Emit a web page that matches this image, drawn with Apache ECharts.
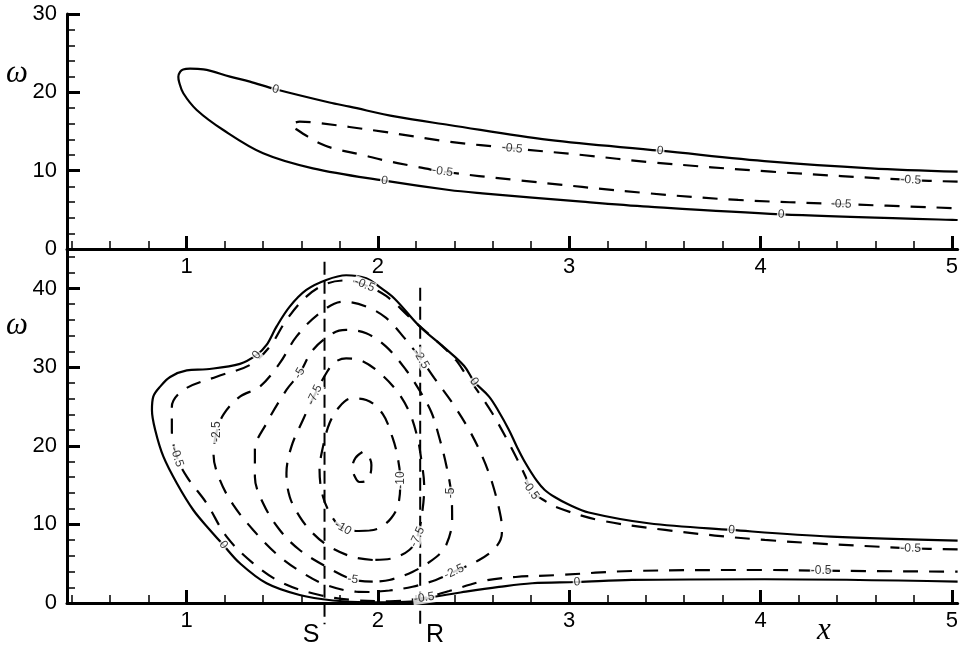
<!DOCTYPE html>
<html>
<head>
<meta charset="utf-8">
<script src="https://cdn.jsdelivr.net/npm/echarts@6/dist/echarts.min.js"></script>
<style>
  html, body { margin: 0; padding: 0; background: #fff; }
  #chart { width: 961px; height: 650px; }
</style>
</head>
<body>
<div id="chart"></div>
<script>
// ---------- axis ranges and tick values ----------
const X_MIN = 0.375, X_MAX = 5.03;
const xMajor = [1, 2, 3, 4, 5];
const xMinor = [0.4, 0.6, 0.8, 1.2, 1.4, 1.6, 1.8, 2.2, 2.4, 2.6, 2.8, 3.2, 3.4, 3.6, 3.8, 4.2, 4.4, 4.6, 4.8];
const topYMax = 30;
const topYMajor = [0, 10, 20, 30];
const topYMinor = [2, 4, 6, 8, 12, 14, 16, 18, 22, 24, 26, 28];
const botYMax = 44.9;
const botYMajor = [0, 10, 20, 30, 40];
const botYMinor = [2, 4, 6, 8, 12, 14, 16, 18, 22, 24, 26, 28, 32, 34, 36, 38, 42, 44];

// ---------- upper panel contours (x, omega) ----------
const topZero = [[5.03,9.87],[4.575,10.30],[4.054,11.15],[3.475,12.55],[2.893,13.92],[2.372,15.83],[2.095,16.89],[1.852,18.17],[1.747,18.70],[1.465,20.39],[1.331,21.36],[1.227,22.00],[1.088,22.94],[1.018,23.02],[0.982,22.92],[0.966,22.60],[0.957,22.00],[0.961,21.32],[0.983,19.88],[1.053,17.75],[1.192,15.19],[1.400,12.22],[1.660,10.30],[2.034,8.72],[2.372,7.53],[2.546,7.11],[3.067,6.04],[3.414,5.40],[4.108,4.43],[5.03,3.70]];
const topNegHalf = [[5.03,8.59],[4.785,8.81],[4.056,9.87],[3.431,11.07],[3.067,12.00],[2.702,12.86],[2.372,13.70],[2.025,14.98],[1.678,16.12],[1.591,16.25],[1.547,15.77],[1.576,15.26],[1.634,14.34],[1.695,13.49],[1.765,12.86],[1.921,12.00],[2.025,11.36],[2.181,10.60],[2.338,9.89],[2.720,8.81],[3.414,7.11],[3.883,6.26],[4.421,5.74],[5.03,5.20]];
const topLabelPos = [[1.465,20.39,'0'],[3.475,12.55,'0'],[2.034,8.72,'0'],[4.108,4.43,'0'],[2.702,12.86,'-0.5'],[4.785,8.81,'-0.5'],[2.338,9.89,'-0.5'],[4.421,5.74,'-0.5']];

// ---------- lower panel contours (x, omega) ----------
const botZero = [[5.03,7.93],[4.369,8.44],[3.848,9.29],[3.414,10.14],[3.102,11.51],[2.997,12.53],[2.924,13.49],[2.872,14.38],[2.831,15.52],[2.772,17.77],[2.727,19.85],[2.685,22.01],[2.633,24.30],[2.581,26.25],[2.503,28.16],[2.451,30.15],[2.346,32.51],[2.216,35.24],[2.086,38.74],[2.008,40.20],[1.939,41.31],[1.834,41.69],[1.730,41.09],[1.626,39.82],[1.539,37.70],[1.470,35.15],[1.418,32.82],[1.366,31.55],[1.279,30.41],[1.105,29.73],[1.001,29.58],[0.914,28.75],[0.862,27.52],[0.826,26.25],[0.819,24.55],[0.836,22.01],[0.879,18.61],[0.949,15.23],[1.035,11.83],[1.122,9.29],[1.192,7.38],[1.279,5.05],[1.418,2.51],[1.591,1.02],[1.765,0.32],[1.939,0.09],[2.112,0.13],[2.216,0.32],[2.303,0.83],[2.459,1.44],[2.633,2.04],[2.806,2.51],[3.041,2.67],[3.327,2.93],[4.022,3.02],[5.03,2.71]];
const botNegHalf = [[5.03,6.83],[4.785,6.96],[4.022,8.02],[3.501,9.29],[3.154,10.56],[2.945,12.09],[2.857,13.23],[2.798,14.38],[2.772,16.07],[2.685,20.32],[2.598,24.13],[2.529,26.68],[2.461,29.01],[2.407,30.92],[2.320,33.04],[2.181,36.01],[2.043,39.06],[1.930,40.46],[1.834,41.03],[1.730,40.59],[1.626,38.97],[1.522,36.01],[1.435,32.61],[1.331,30.28],[1.157,28.79],[0.983,27.10],[0.923,24.97],[0.923,22.01],[0.949,18.61],[1.001,16.07],[1.105,12.68],[1.209,8.44],[1.348,5.05],[1.504,2.51],[1.695,1.02],[1.869,0.38],[2.060,0.22],[2.242,0.67],[2.372,1.53],[2.564,2.86],[2.720,3.31],[2.945,3.56],[3.327,4.07],[4.022,4.20],[4.317,4.11],[5.03,3.98]];
const botNeg2p5 = [[1.956,1.40],[1.886,1.44],[1.730,2.29],[1.591,4.07],[1.466,6.32],[1.348,9.29],[1.244,12.47],[1.174,15.65],[1.141,18.83],[1.157,21.79],[1.195,24.05],[1.279,26.25],[1.383,27.52],[1.487,30.50],[1.574,33.88],[1.695,36.86],[1.817,38.33],[1.939,37.70],[2.043,36.26],[2.138,33.72],[2.225,31.04],[2.294,28.63],[2.390,25.41],[2.477,22.01],[2.546,18.61],[2.598,15.23],[2.642,10.98],[2.648,8.91],[2.617,7.12],[2.529,5.47],[2.398,3.98],[2.303,2.93],[2.181,2.07],[2.060,1.59],[1.956,1.40]];
const botNeg5 = [[1.973,2.71],[1.869,2.99],[1.730,4.62],[1.591,6.74],[1.487,9.29],[1.400,12.68],[1.357,16.07],[1.357,19.47],[1.418,22.86],[1.522,27.10],[1.591,29.22],[1.660,32.19],[1.765,34.31],[1.834,34.73],[1.939,34.31],[2.043,32.61],[2.147,29.64],[2.216,27.10],[2.279,24.30],[2.320,21.12],[2.357,17.56],[2.383,13.99],[2.388,10.56],[2.357,7.38],[2.305,5.85],[2.180,3.94],[2.060,2.93],[1.973,2.71]];
const botNeg7p5 = [[1.973,5.47],[1.869,5.85],[1.747,7.16],[1.660,8.87],[1.591,10.98],[1.539,13.52],[1.522,16.50],[1.548,19.89],[1.608,23.28],[1.669,26.46],[1.730,29.22],[1.773,30.60],[1.834,31.11],[1.904,30.92],[1.991,29.64],[2.095,27.10],[2.164,24.30],[2.206,21.12],[2.227,18.19],[2.242,14.80],[2.232,11.58],[2.206,8.40],[2.164,6.74],[2.077,5.69],[1.973,5.47]];
const botNeg10 = [[1.956,9.22],[1.886,9.16],[1.817,9.54],[1.765,10.78],[1.713,13.52],[1.695,16.92],[1.713,19.89],[1.747,22.86],[1.799,24.97],[1.862,26.02],[1.939,25.83],[2.025,24.05],[2.077,20.99],[2.103,18.58],[2.117,15.65],[2.107,12.60],[2.070,10.81],[2.008,9.54],[1.956,9.22]];
const botNeg12p5 = [[1.919,19.21],[1.883,18.45],[1.867,17.30],[1.878,16.16],[1.904,15.39],[1.940,15.52],[1.961,16.41],[1.966,17.56],[1.951,18.70],[1.919,19.21]];
const botLabelPos = [[1.930,40.46,'-0.5'],[1.366,31.55,'0'],[1.591,29.22,'-5'],[1.669,26.46,'-7.5'],[1.157,21.79,'-2.5'],[0.949,18.61,'-0.5'],[1.192,7.38,'0'],[2.225,31.04,'-2.5'],[2.503,28.16,'0'],[2.117,15.65,'-10'],[2.383,13.99,'-5'],[1.817,9.54,'-10'],[2.206,8.40,'-7.5'],[1.869,2.99,'-5'],[2.398,3.98,'-2.5'],[2.242,0.67,'-0.5'],[2.798,14.38,'-0.5'],[3.848,9.29,'0'],[4.785,6.96,'-0.5'],[4.317,4.11,'-0.5'],[3.041,2.67,'0']];

// separation (S) and reattachment (R) stations
const sLine = [[1.721,43.4],[1.721,-2.7]];
const rLine = [[2.221,40.1],[2.221,-2.7]];

// ---------- styling helpers ----------
const FONT = '"Liberation Sans", Arial, Helvetica, sans-serif';
const SERIF_IT = 'italic 31px "Liberation Serif", "DejaVu Serif", serif';
const topLabelAngles = [-14, -5, -8, -2, -6, -3, -8, -2];
const botLabelAngles = [-22, 50, 60, 65, 90, -72, -50, -60, -55, 90, 90, -30, 65, -8, 25, 8, -55, -4, -1, 0, 2];

function xAxesFor(grid) {
  return [
    { gridIndex: grid, type: 'value', position: 'bottom', min: X_MIN, max: X_MAX,
      axisLine: { onZero: false, lineStyle: { color: '#000', width: 3 } },
      axisTick: { inside: true, length: 13, customValues: xMajor, lineStyle: { color: '#000', width: 3 } },
      axisLabel: { customValues: xMajor, color: '#000', fontSize: 22, fontFamily: FONT, margin: 7 },
      splitLine: { show: false } },
    { gridIndex: grid, type: 'value', position: 'bottom', min: X_MIN, max: X_MAX,
      axisLine: { show: false, onZero: false },
      axisTick: { inside: true, length: 8, customValues: xMinor, lineStyle: { color: '#000', width: 1.5 } },
      axisLabel: { show: false }, splitLine: { show: false } }
  ];
}
function yAxesFor(grid, max, major, minor) {
  return [
    { gridIndex: grid, type: 'value', position: 'left', min: 0, max: max,
      axisLine: { show: true, onZero: false, lineStyle: { color: '#000', width: 3 } },
      axisTick: { show: true, inside: true, length: 13, customValues: major, lineStyle: { color: '#000', width: 3 } },
      axisLabel: { customValues: major, color: '#000', fontSize: 22, fontFamily: FONT, margin: 10 },
      splitLine: { show: false } },
    { gridIndex: grid, type: 'value', position: 'left', min: 0, max: max,
      axisLine: { show: false, onZero: false },
      axisTick: { show: true, inside: true, length: 8, customValues: minor, lineStyle: { color: '#000', width: 1.5 } },
      axisLabel: { show: false }, splitLine: { show: false } }
  ];
}
function contour(data, axis, dashed) {
  return {
    type: 'line', xAxisIndex: axis, yAxisIndex: axis, data: data,
    symbol: 'none', showSymbol: false, smooth: 0.35, silent: true, z: 2,
    lineStyle: { color: '#000', width: 2.2, type: dashed ? [15, 11] : 'solid' }
  };
}
function labels(list, angles, axis) {
  return {
    type: 'scatter', xAxisIndex: axis, yAxisIndex: axis, symbolSize: 1, silent: true, z: 5,
    itemStyle: { color: 'rgba(0,0,0,0)' },
    data: list.map((d, i) => ({ name: d[2], value: [d[0], d[1]], label: { rotate: angles[i] } })),
    label: { show: true, position: 'inside', formatter: '{b}', fontSize: 12, color: '#000',
             fontFamily: FONT, backgroundColor: '#fff', padding: [0, 1] }
  };
}
function station(data) {
  return {
    type: 'line', xAxisIndex: 2, yAxisIndex: 2, data: data, clip: false,
    symbol: 'none', showSymbol: false, silent: true, z: 3,
    lineStyle: { color: '#000', width: 2, type: [13, 6] }
  };
}

const chart = echarts.init(document.getElementById('chart'));
chart.setOption({
  animation: false,
  backgroundColor: '#fff',
  grid: [
    { left: 67, top: 14, width: 894, height: 235 },
    { left: 67, top: 250, width: 894, height: 353 }
  ],
  xAxis: [...xAxesFor(0), ...xAxesFor(1)],
  yAxis: [...yAxesFor(0, topYMax, topYMajor, topYMinor), ...yAxesFor(1, botYMax, botYMajor, botYMinor)],
  series: [
    contour(topZero, 0, false),
    contour(topNegHalf, 0, true),
    labels(topLabelPos, topLabelAngles, 0),
    contour(botZero, 2, false),
    contour(botNegHalf, 2, true),
    contour(botNeg2p5, 2, true),
    contour(botNeg5, 2, true),
    contour(botNeg7p5, 2, true),
    contour(botNeg10, 2, true),
    contour(botNeg12p5, 2, true),
    station(sLine),
    station(rLine),
    labels(botLabelPos, botLabelAngles, 2)
  ],
  graphic: [
    { type: 'text', x: 17, y: 74, style: { text: 'ω', font: SERIF_IT, fill: '#000', align: 'center', verticalAlign: 'middle' } },
    { type: 'text', x: 17, y: 326, style: { text: 'ω', font: SERIF_IT, fill: '#000', align: 'center', verticalAlign: 'middle' } },
    { type: 'text', x: 824, y: 631, style: { text: 'x', font: SERIF_IT, fill: '#000', align: 'center', verticalAlign: 'middle' } },
    { type: 'text', x: 311, y: 635, style: { text: 'S', font: '25px "Liberation Sans", Arial, sans-serif', fill: '#000', align: 'center', verticalAlign: 'middle' } },
    { type: 'text', x: 435, y: 635, style: { text: 'R', font: '25px "Liberation Sans", Arial, sans-serif', fill: '#000', align: 'center', verticalAlign: 'middle' } }
  ]
});
</script>
</body>
</html>
